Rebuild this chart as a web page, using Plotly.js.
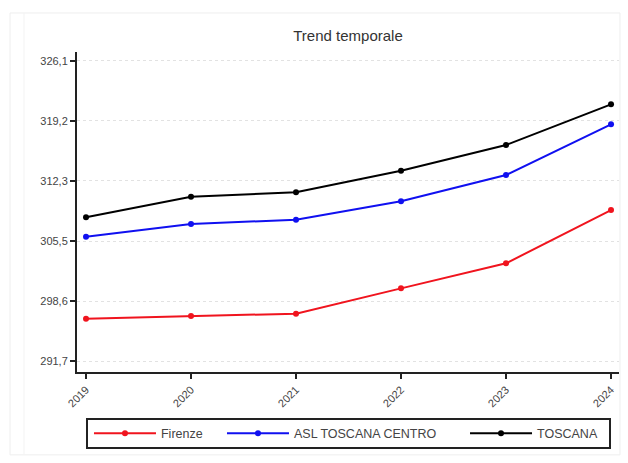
<!DOCTYPE html>
<html>
<head>
<meta charset="utf-8">
<script src="https://cdn.plot.ly/plotly-3.0.1.min.js"></script>
<style>html,body{margin:0;padding:0;background:#fff;}#chart{width:628px;height:463px;}</style>
</head>
<body>
<div id="chart"></div>
<script>
const years = [2019, 2020, 2021, 2022, 2023, 2024];
const firenze = [296.55, 296.86, 297.13, 300.03, 302.90, 309.01];
const aslToscanaCentro = [305.96, 307.41, 307.90, 310.01, 313.03, 318.84];
const toscana = [308.18, 310.54, 311.04, 313.52, 316.47, 321.13];
const yTickVals = [291.7, 298.58, 305.46, 312.34, 319.22, 326.1];
const yTickText = ['291,7', '298,6', '305,5', '312,3', '319,2', '326,1'];
const xTickText = ['2019', '2020', '2021', '2022', '2023', '2024'];

function series(name, y, color, legendId) {
  return {
    x: years, y: y, name: name, type: 'scatter', mode: 'lines+markers',
    legend: legendId,
    line: {color: color, width: 2},
    marker: {color: color, size: 6, symbol: 'circle'}
  };
}

const data = [
  series('Firenze', firenze, '#f0141e', 'legend'),
  series('ASL TOSCANA CENTRO', aslToscanaCentro, '#1010f0', 'legend2'),
  series('TOSCANA', toscana, '#000000', 'legend3')
];

function leg(x) {
  return {
    orientation: 'h', x: x, xanchor: 'left', y: -0.1922, yanchor: 'middle',
    borderwidth: 0, bgcolor: 'rgba(0,0,0,0)',
    itemwidth: 62, font: {size: 12.5, color: '#444'}
  };
}

const layout = {
  width: 628, height: 463,
  margin: {l: 77, r: 9, t: 52, b: 91},
  paper_bgcolor: '#ffffff', plot_bgcolor: '#ffffff',
  font: {family: 'Liberation Sans, Arial, sans-serif', color: '#444444', size: 12},
  title: {text: 'Trend temporale', x: 0.5, xref: 'paper', xanchor: 'center',
          y: 0.922, yref: 'container', yanchor: 'middle',
          font: {size: 15, color: '#333333'}},
  xaxis: {
    range: [2018.914, 2024.076], tickvals: years, ticktext: xTickText,
    tickangle: -45, ticks: 'outside', ticklen: 5, tickwidth: 1.5, tickcolor: '#222',
    showline: true, linecolor: '#222', linewidth: 2, showgrid: false, zeroline: false,
    tickfont: {size: 11, color: '#444'}
  },
  yaxis: {
    range: [290.44, 327.13], tickvals: yTickVals, ticktext: yTickText,
    ticks: 'outside', ticklen: 5, tickwidth: 1.5, tickcolor: '#222',
    showline: true, linecolor: '#222', linewidth: 2,
    showgrid: true, gridcolor: '#e2e2e2', griddash: 'dot', gridwidth: 1, zeroline: false,
    tickfont: {size: 11, color: '#444'}
  },
  showlegend: true,
  legend: leg(0.0221),
  legend2: leg(0.2675),
  legend3: leg(0.7159),
  shapes: [
    {type: 'rect', xref: 'paper', yref: 'paper', x0: -0.1236, x1: 1.0018, y0: -0.259, y1: 1.122,
     line: {color: '#eeeeee', width: 1}, layer: 'below'},
    {type: 'line', xref: 'paper', yref: 'paper', x0: -0.0978, x1: -0.0978, y0: -0.259, y1: 1.122,
     line: {color: '#f3f3f3', width: 1}, layer: 'below'},
    {type: 'rect', xref: 'paper', yref: 'paper', x0: 0.01845, x1: 0.9834, y0: -0.2375, y1: -0.1469,
     line: {color: '#222222', width: 2}, layer: 'above'}
  ]
};

Plotly.newPlot('chart', data, layout, {displayModeBar: false, staticPlot: true});
</script>
</body>
</html>
